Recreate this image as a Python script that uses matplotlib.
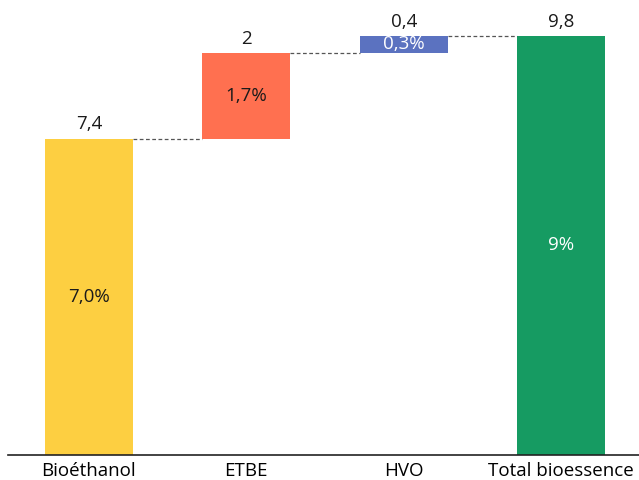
import matplotlib.pyplot as plt

categories = ["Bioéthanol", "ETBE", "HVO", "Total bioessence"]
values = [7.4, 2, 0.4, 9.8]
value_labels = ["7,4", "2", "0,4", "9,8"]
share_labels = ["7,0%", "1,7%", "0,3%", "9%"]
colors = ["#FDCF41", "#FF7050", "#5B72C0", "#169B62"]
share_text_colors = ["#1a1a1a", "#1a1a1a", "white", "white"]

plt.rcParams["font.family"] = ["Open Sans", "DejaVu Sans"]

fig = plt.figure(figsize=(6.39, 4.8), dpi=100)
ax = fig.add_axes([0.0125, 0.052, 0.9875, 0.948])

# waterfall: each step starts where the previous one ended, last bar is the total
bottoms = []
running = 0
for i, v in enumerate(values):
    if i == len(values) - 1:
        bottoms.append(0)
    else:
        bottoms.append(running)
        running += v

x = list(range(len(categories)))
width = 0.56
ax.bar(x, values, bottom=bottoms, width=width, color=colors)

for i in x:
    top = bottoms[i] + values[i]
    ax.text(i, top + 0.12, value_labels[i], ha="center", va="bottom",
            fontsize=13.5, color="#1a1a1a")
    ax.text(i, bottoms[i] + values[i] / 2, share_labels[i], ha="center",
            va="center", fontsize=13.5, color=share_text_colors[i])

# dashed connectors between consecutive bars
for i in range(len(values) - 1):
    level = bottoms[i] + values[i]
    ax.plot([i + width / 2, i + 1 - width / 2], [level, level],
            linestyle=(0, (3, 2)), color="#555555", linewidth=0.9)

ax.set_xlim(-0.514, 3.495)
ax.set_ylim(0, 10.64)
ax.set_xticks(x)
ax.set_xticklabels(categories, fontsize=13.5)
ax.tick_params(axis="x", length=0, pad=5)
ax.set_yticks([])
for side in ["top", "right", "left"]:
    ax.spines[side].set_visible(False)
ax.spines["bottom"].set_color("#222222")
ax.spines["bottom"].set_linewidth(1.2)

fig.savefig("out.png", dpi=100)
